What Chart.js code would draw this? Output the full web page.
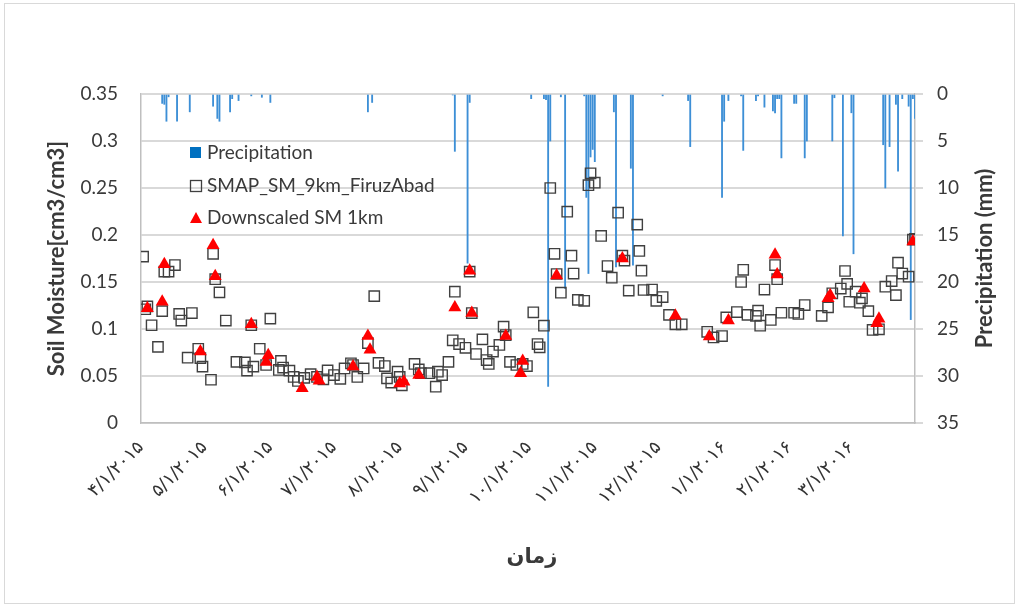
<!DOCTYPE html>
<html><head><meta charset="utf-8">
<script src="https://cdn.jsdelivr.net/npm/chart.js@4.4.1/dist/chart.umd.min.js"></script>
<style>
html,body{margin:0;padding:0;background:#fff;}
#wrap{position:relative;width:1019px;height:608px;}
#frame{position:absolute;left:4px;top:3px;width:1009px;height:599px;border:1px solid #d9d9d9;pointer-events:none;}
canvas{display:block;}
</style></head><body>
<div id="wrap"><canvas id="c" width="1019" height="608"></canvas><div id="frame"></div></div>
<script>
// x values are days counted from 1 April 2015
const monthDays = [0,30,61,91,122,153,183,214,244,275,306,335];
const monthLabels = ['۴/۱/۲۰۱۵','۵/۱/۲۰۱۵','۶/۱/۲۰۱۵','۷/۱/۲۰۱۵','۸/۱/۲۰۱۵','۹/۱/۲۰۱۵','۱۰/۱/۲۰۱۵','۱۱/۱/۲۰۱۵','۱۲/۱/۲۰۱۵','۱/۱/۲۰۱۶','۲/۱/۲۰۱۶','۳/۱/۲۰۱۶'];

const smapDays = [1,2,3,5,8,10,11,13,16,18,19,22,24,27,28,29,33,34,35,37,40,45,49,50,52,53,56,59,61,65,66,67,70,72,74,77,80,83,86,88,91,94,96,99,100,102,105,107,110,112,115,116,118,121,122,123,129,131,132,136,139,140,142,145,147,148,150,153,155,156,158,161,163,164,166,169,171,172,174,177,180,182,185,187,188,190,193,195,196,198,201,203,204,206,209,211,212,214,217,220,222,225,227,228,230,234,235,236,237,241,243,246,249,252,255,267,270,274,276,281,283,284,286,290,291,292,294,297,299,300,302,308,310,313,321,324,326,330,332,333,334,337,339,340,343,345,348,351,354,356,357,359,362,364,365];
const smapValues = [0.177,0.121,0.124,0.104,0.081,0.119,0.161,0.161,0.168,0.116,0.109,0.0695,0.117,0.079,0.069,0.060,0.046,0.180,0.153,0.139,0.109,0.065,0.0645,0.0557,0.104,0.060,0.079,0.0617,0.111,0.0564,0.066,0.059,0.0557,0.049,0.0447,0.048,0.052,0.049,0.0465,0.056,0.051,0.047,0.058,0.0635,0.0617,0.049,0.058,0.085,0.135,0.064,0.0606,0.0475,0.043,0.0546,0.049,0.040,0.0628,0.057,0.053,0.053,0.0386,0.0546,0.051,0.065,0.088,0.1397,0.084,0.080,0.161,0.117,0.0734,0.089,0.067,0.0628,0.076,0.083,0.1025,0.0936,0.065,0.0617,0.0628,0.0606,0.1178,0.084,0.0805,0.1035,0.250,0.180,0.1585,0.1386,0.2248,0.178,0.159,0.131,0.130,0.253,0.2656,0.2556,0.199,0.167,0.1546,0.2237,0.178,0.1727,0.1408,0.211,0.183,0.162,0.1415,0.142,0.130,0.134,0.115,0.105,0.105,0.097,0.091,0.0925,0.1124,0.118,0.150,0.163,0.115,0.114,0.1195,0.1035,0.142,0.1096,0.168,0.153,0.1173,0.1173,0.116,0.1255,0.114,0.123,0.138,0.143,0.1617,0.148,0.129,0.1397,0.128,0.1326,0.119,0.099,0.0997,0.145,0.151,0.136,0.1705,0.159,0.1556,0.195,0.196];

const downDays = [3,10,11,28,34,35,52,59,60,76,83,84,100,107,108,122,124,131,148,155,156,172,179,180,196,227,252,268,277,299,300,324,325,341,347,348,364];
const downValues = [0.122,0.129,0.169,0.076,0.189,0.156,0.105,0.065,0.072,0.037,0.049,0.045,0.060,0.0925,0.078,0.042,0.044,0.051,0.123,0.162,0.117,0.0925,0.053,0.066,0.157,0.175,0.114,0.092,0.109,0.179,0.158,0.1326,0.136,0.143,0.106,0.111,0.193];

const precipDays = [10,11,12,13,17,23,34,36,37,42,43,46,52,57,61,107,109,147,148,154,155,184,190,191,192,193,198,200,209,210,211,212,213,214,223,224,231,232,246,258,259,274,275,277,283,284,290,291,294,298,299,300,301,302,308,309,313,314,326,327,331,335,336,350,351,353,356,357,359,362,363,364,365];
const precipValues = [1.0,1.1,2.9,0.3,2.9,1.9,1.3,2.6,2.9,1.9,0.5,0.7,0.2,0.35,0.9,1.9,0.9,0.1,6.1,18.0,0.9,0.5,0.5,0.6,31.1,5.0,0.3,20.7,0.2,11.0,19.1,6.7,5.9,7.2,1.9,18.4,7.9,18.2,0.2,0.7,5.6,11.0,2.9,0.7,0.2,6.0,0.7,0.2,1.4,1.8,2.0,0.5,0.5,6.8,1.0,1.0,6.8,5.0,5.0,0.4,15.1,2.0,17.0,5.4,10.0,5.6,1.1,8.2,0.5,1.3,24.0,0.5,2.6];

const zip = (xs, ys) => xs.map((x, i) => ({x: x, y: ys[i]}));

const FONT = "Lato, 'DejaVu Sans', sans-serif";
const TXT = '#3a3a3a';

const overlay = {
  id: 'overlay',
  beforeDraw(chart) {
    const sx = chart.scales.x;
    if (!sx._spaced) {
      const orig = sx.drawLabels.bind(sx);
      sx.drawLabels = function (area) {
        const c = chart.ctx; const prev = c.letterSpacing;
        c.letterSpacing = '2.5px'; orig(area); c.letterSpacing = prev || '0px';
      };
      sx._spaced = true;
    }
  },
  afterDraw(chart) {
    const ctx = chart.ctx, a = chart.chartArea;
    ctx.save();
    const lx = a.left + 55, ty = [a.top + 59, a.top + 92, a.top + 124];
    ctx.fillStyle = '#0070C0';
    ctx.fillRect(lx - 6, ty[0] - 6, 11, 11);
    ctx.strokeStyle = '#404040'; ctx.lineWidth = 1.3;
    ctx.strokeRect(lx - 5.5, ty[1] - 5.5, 11, 11);
    ctx.fillStyle = '#ff0000';
    ctx.beginPath();
    ctx.moveTo(lx, ty[2] - 6); ctx.lineTo(lx + 6, ty[2] + 5); ctx.lineTo(lx - 6, ty[2] + 5); ctx.closePath(); ctx.fill();
    ctx.fillStyle = TXT; ctx.font = "19px " + FONT; ctx.textBaseline = 'middle'; ctx.textAlign = 'left';
    ctx.fillText('Precipitation', lx + 11, ty[0]);
    ctx.fillText('SMAP_SM_9km_FiruzAbad', lx + 11, ty[1]);
    ctx.fillText('Downscaled SM 1km', lx + 11, ty[2]);
    ctx.font = "bold 22px " + FONT; ctx.textAlign = 'center';
    const cy = (a.top + a.bottom) / 2;
    ctx.save(); ctx.translate(57, cy); ctx.rotate(-Math.PI / 2); ctx.fillText('Soil Moisture[cm3/cm3]', 0, 0); ctx.restore();
    ctx.save(); ctx.translate(985, cy); ctx.rotate(-Math.PI / 2); ctx.fillText('Precipitation (mm)', 0, 0); ctx.restore();
    ctx.font = "bold 21px 'DejaVu Sans', sans-serif";
    ctx.fillText('زمان', (a.left + a.right) / 2 + 4, 558);
    ctx.restore();
  }
};

new Chart(document.getElementById('c'), {
  type: 'bar',
  data: {
    datasets: [
      {type: 'scatter', label: 'Downscaled SM 1km', data: zip(downDays, downValues), yAxisID: 'y', xAxisID: 'x',
       pointStyle: 'triangle', pointRadius: 7.5, backgroundColor: '#ff0000', borderColor: '#ff0000', borderWidth: 0, order: 1},
      {type: 'scatter', label: 'SMAP_SM_9km_FiruzAbad', data: zip(smapDays, smapValues), yAxisID: 'y', xAxisID: 'x',
       pointStyle: 'rect', pointRadius: 7.3, backgroundColor: 'rgba(0,0,0,0)', borderColor: '#404040', borderWidth: 1.4, order: 2},
      {type: 'bar', label: 'Precipitation', data: zip(precipDays, precipValues), yAxisID: 'y2', xAxisID: 'x',
       backgroundColor: '#3d8fd6', barThickness: 1.2, grouped: false, order: 3}
    ]
  },
  options: {
    responsive: false,
    animation: false,
    events: [],
    layout: {padding: {top: 94, left: 0, right: 0, bottom: 0}},
    plugins: {legend: {display: false}, tooltip: {enabled: false}},
    scales: {
      x: {
        type: 'linear', position: 'bottom', min: 0, max: 365, offset: false,
        grid: {display: false, drawTicks: false, offset: false},
        border: {display: true, color: '#bfbfbf', width: 1.5},
        afterBuildTicks: s => { s.ticks = monthDays.map(v => ({value: v})); },
        afterFit: s => { s.height = 185; },
        ticks: {autoSkip: false, minRotation: 45, maxRotation: 45, padding: 14,
          font: {size: 18, family: "'DejaVu Sans', sans-serif"}, color: '#333333',
          callback: v => monthLabels[monthDays.indexOf(v)]}
      },
      y: {
        position: 'left', min: 0, max: 0.35,
        grid: {color: '#d9d9d9', lineWidth: 2, drawTicks: false},
        border: {color: '#bfbfbf', width: 1.5},
        afterFit: s => { s.width = 141; },
        ticks: {stepSize: 0.05, padding: 23, font: {size: 19, family: FONT}, color: TXT,
          callback: v => String(+v.toFixed(2))}
      },
      y2: {
        position: 'right', min: 0, max: 35, reverse: true,
        grid: {drawOnChartArea: false, drawTicks: true, tickLength: 8, color: '#d9d9d9', lineWidth: 2},
        border: {color: '#bfbfbf', width: 1.5},
        afterFit: s => { s.width = 104; },
        ticks: {stepSize: 5, padding: 14, font: {size: 19, family: FONT}, color: TXT}
      }
    }
  },
  plugins: [overlay]
});
</script>
</body></html>
